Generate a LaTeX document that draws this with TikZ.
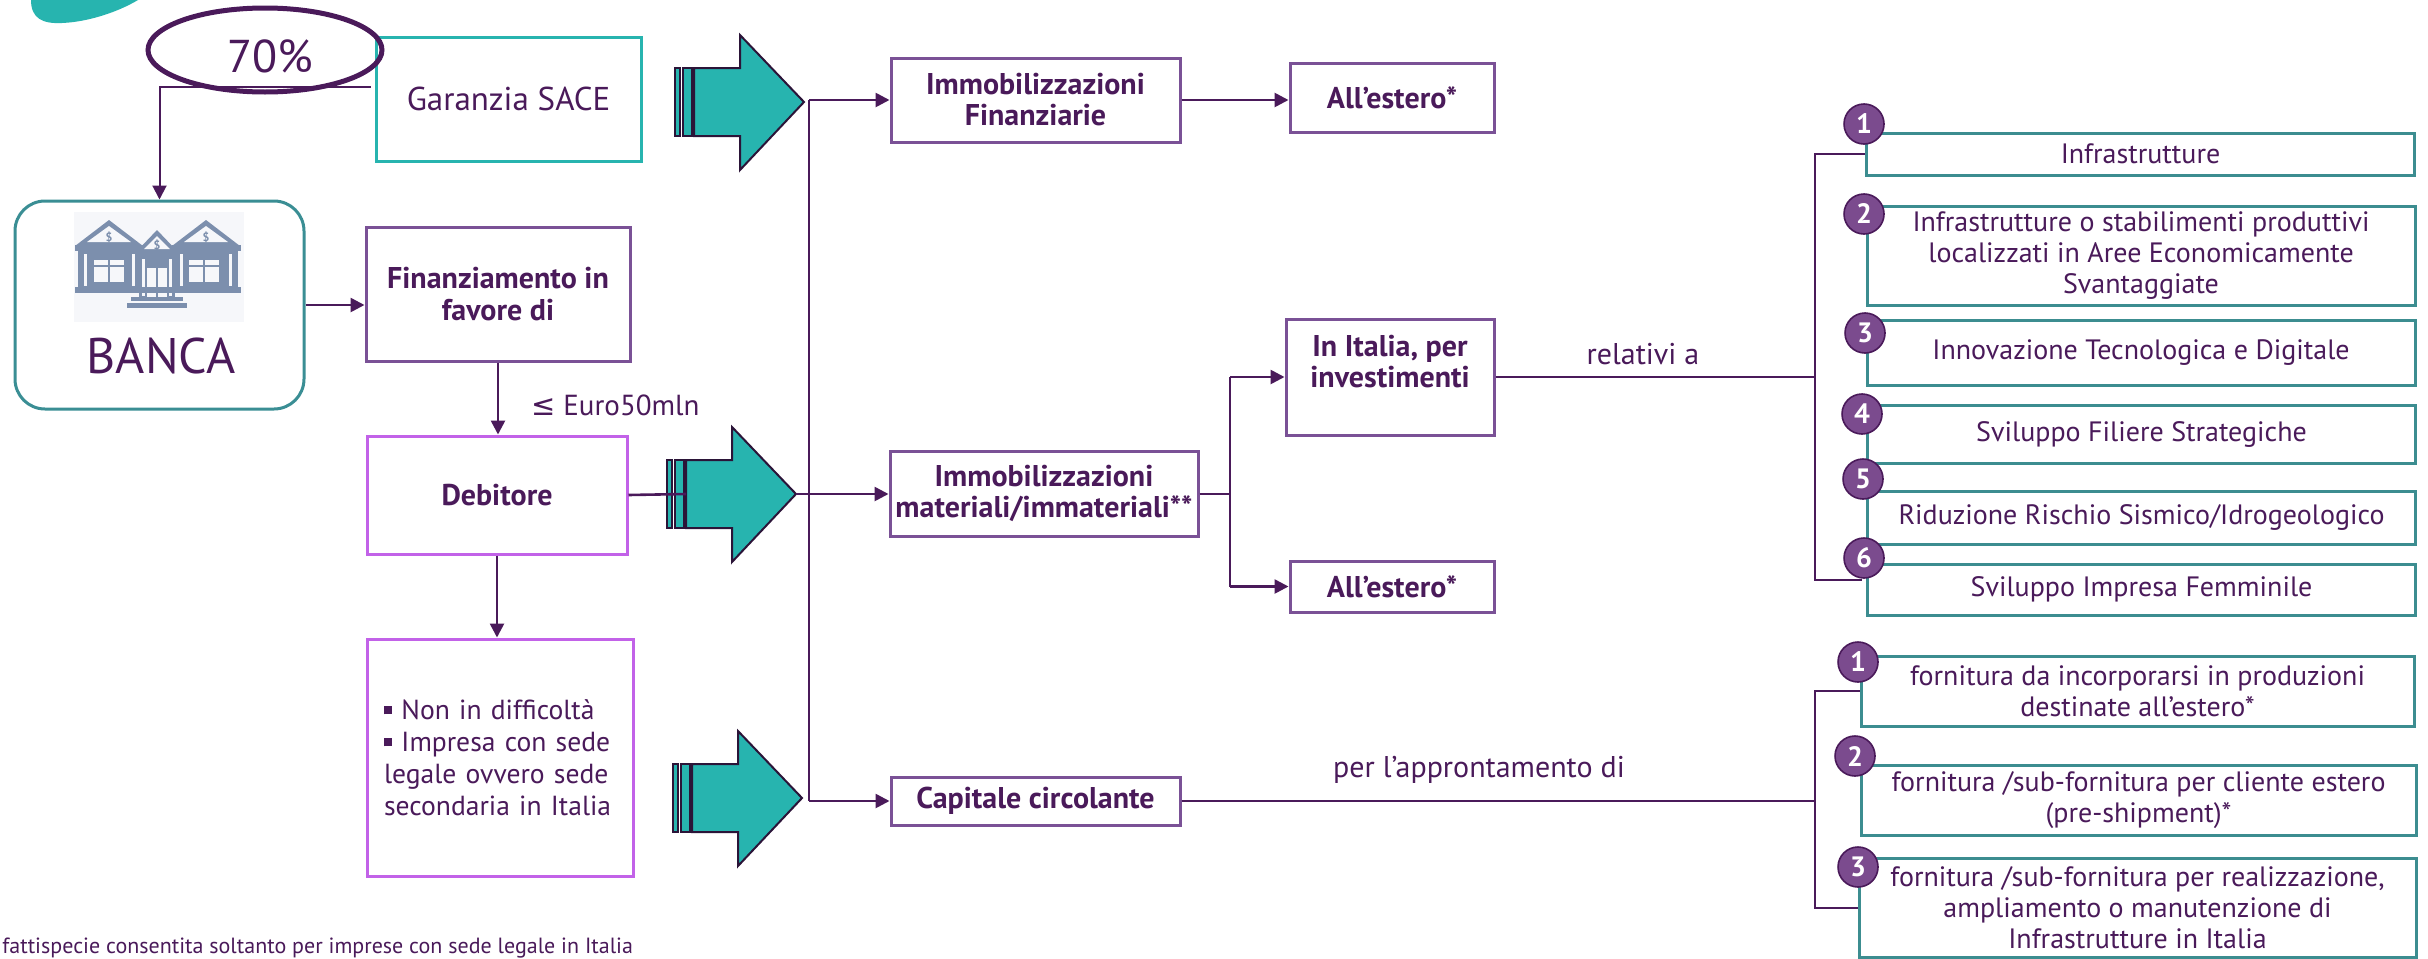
\documentclass[tikz,border=0pt]{standalone}
\usepackage{fontspec}
\setmainfont{PT Sans}
\newfontfamily\symfont{DejaVu Sans}
\usetikzlibrary{arrows.meta,calc,shapes.geometric}
\definecolor{tx}{HTML}{4A1A5A}
\definecolor{tealA}{HTML}{27B4AF}
\definecolor{tealB}{HTML}{3A8E94}
\definecolor{tealC}{HTML}{3C8D90}
\definecolor{boxp}{HTML}{7A5196}
\definecolor{vio}{HTML}{C262E8}
\definecolor{cpur}{HTML}{7B4B8E}
\definecolor{ardark}{HTML}{2B1438}
\definecolor{icon}{HTML}{7C8FAD}
\definecolor{iconbg}{HTML}{F6F7FA}
\newcommand\bul{\rule[0.18em]{0.3em}{0.3em}}
\tikzset{
  ln/.style={draw=tx, line width=1pt},
  arr/.style={draw=tx, line width=1.3pt, -{Triangle[length=7pt,width=7pt]}},
  pbox/.style={draw=boxp, line width=1.5pt, fill=white, inner sep=2pt, align=center, text=tx,
     font=\bfseries\fontsize{15}{15.5}\selectfont},
  vbox/.style={draw=vio, line width=1.5pt, fill=white, inner sep=2pt, align=center, text=tx},
  rbox/.style={draw=tealC, line width=1.5pt, fill=white, inner sep=2pt, align=center, text=tx,
     minimum width=274pt, font=\fontsize{14}{15.5}\selectfont},
  num/.style={circle, fill=cpur, draw=tx, line width=0.8pt, minimum size=20pt, inner sep=0pt,
     text=white, font=\bfseries\fontsize{14}{14}\selectfont},
  bigarrow/.style={fill=tealA, draw=ardark, line width=1pt},
  lbl/.style={text=tx, inner sep=0pt},
}
\begin{document}
\begin{tikzpicture}[x=0.5pt,y=-0.5pt]
\useasboundingbox (0,0) rectangle (2428,958);
\fill[white] (0,0) rectangle (2428,958);

% teal blob
\fill[tealA] (31,0) .. controls (31,18) and (42,24) .. (62,23) .. controls (88,22) and (118,12) .. (138,0) -- cycle;

% ---------- boxes ----------
\node[draw=tealA, line width=1.5pt, fill=white, minimum width=132.5pt, minimum height=62pt,
      text=tx, font=\fontsize{16.5}{18}\selectfont] (gar) at (508.5,99) {Garanzia SACE};
\node[ellipse, draw=tx, line width=2.5pt, minimum width=117pt, minimum height=42pt] (ell) at (265,50) {};
\node[lbl, anchor=base, font=\fontsize{23}{23}\selectfont] (pct) at (270,72) {70\%};

\node[draw=tealB, line width=1.5pt, rounded corners=15pt, fill=white,
      minimum width=144.5pt, minimum height=104pt] (banca) at (159.5,305) {};
\node[lbl, anchor=base, font=\fontsize{25}{25}\selectfont] (bancat) at (161,373) {BANCA};

\node[pbox, minimum width=132pt, minimum height=67pt, font=\bfseries\fontsize{15}{16}\selectfont]
      (fin) at (498,294) {Finanziamento in\\favore di};
\node[vbox, minimum width=130pt, minimum height=59pt, font=\bfseries\fontsize{15}{16}\selectfont]
      (deb) at (497,495) {Debitore};
\node[vbox, minimum width=133pt, minimum height=118.5pt, text width=116pt, align=left,
      font=\fontsize{13.8}{16}\selectfont] (cond) at (500,757.5)
      {\mbox{\bul{} Non in difficoltà}\\
       \makebox[116pt][s]{\bul{} Impresa con sede}\\
       \makebox[116pt][s]{legale ovvero sede}\\
       \mbox{secondaria in Italia}};
\node[lbl, anchor=west, font=\fontsize{14.5}{16}\selectfont] (eur) at (531,405) {{\symfont ≤} Euro50mln};

\node[pbox, minimum width=144.5pt, minimum height=42pt] (immfin) at (1035.5,100) {Immobilizzazioni\\Finanziarie};
\node[pbox, minimum width=102pt, minimum height=34.5pt] (est1) at (1392,97.5) {All'estero*};
\node[pbox, minimum width=154pt, minimum height=42.5pt] (immmat) at (1044,493.5) {Immobilizzazioni\\materiali/immateriali**};
\node[pbox, minimum width=104pt, minimum height=58pt] (ita) at (1390,377) {};
\node[lbl, align=center, font=\bfseries\fontsize{15}{15.5}\selectfont] (itat) at (1390,362) {In Italia, per\\investimenti};
\node[pbox, minimum width=102pt, minimum height=25.5pt] (est2) at (1392,586.5) {All'estero*};
\node[pbox, minimum width=144.5pt, minimum height=24pt] (cap) at (1035.5,801) {Capitale circolante};

\node[rbox, minimum height=21pt] (r1) at (2140.5,154) {Infrastrutture};
\node[rbox, minimum height=49.5pt] (r2) at (2141,255.5) {Infrastrutture o stabilimenti produttivi\\localizzati in Aree Economicamente\\Svantaggiate};
\node[rbox, minimum height=32.5pt] (r3) at (2141,352.5) {Innovazione Tecnologica e Digitale};
\node[rbox, minimum height=29pt] (r4) at (2141.5,434) {Sviluppo Filiere Strategiche};
\node[rbox, minimum height=26.5pt] (r5) at (2141.5,517.5) {Riduzione Rischio Sismico/Idrogeologico};
\node[rbox, minimum height=25.5pt] (r6) at (2141.5,589.5) {Sviluppo Impresa Femminile};

\node[rbox, minimum width=276.5pt, minimum height=35pt] (s1) at (2137.5,691) {fornitura da incorporarsi in produzioni\\destinate all'estero*};
\node[rbox, minimum width=277.5pt, minimum height=35pt] (s2) at (2138.5,800) {fornitura /sub-fornitura per cliente estero\\(pre-shipment)*};
\node[rbox, minimum width=278.5pt, minimum height=49.5pt] (s3) at (2137.5,908) {fornitura /sub-fornitura per realizzazione,\\ampliamento o manutenzione di\\Infrastrutture in Italia};

% ---------- bank icon ----------
\fill[iconbg] (74,212) rectangle (244,322);
\fill[icon] (75,246) -- (109,220) -- (143,246) -- cycle;
\fill[iconbg] (87,242) -- (109,226) -- (131,242) -- cycle;
\fill[icon] (172,246) -- (206,220) -- (240,246) -- cycle;
\fill[iconbg] (184,242) -- (206,226) -- (228,242) -- cycle;
\fill[icon] (75,245) rectangle (143,251);
\fill[icon] (172,245) rectangle (241,251);
\fill[icon] (78,251) rectangle (141,288);
\fill[icon] (174,251) rectangle (238,288);
\fill[iconbg] (84,254) rectangle (87,286);
\fill[iconbg] (132,254) rectangle (135,286);
\fill[iconbg] (180,254) rectangle (183,286);
\fill[iconbg] (229,254) rectangle (232,286);
\fill[iconbg] (94,260) rectangle (124,282);
\fill[iconbg] (189,260) rectangle (219,282);
\draw[icon, line width=1pt] (109,260) -- (109,282) (204,260) -- (204,282) (94,266) -- (124,266) (189,266) -- (219,266);
\fill[icon] (136,252) -- (157,230) -- (178,252) -- cycle;
\fill[iconbg] (144,249) -- (157,236) -- (170,249) -- cycle;
\fill[icon] (136,252) rectangle (178,257);
\fill[icon] (139,257) rectangle (175,300);
\fill[iconbg] (142,259) rectangle (145,296);
\fill[iconbg] (169,259) rectangle (172,296);
\fill[iconbg] (147,268) rectangle (167,298);
\draw[icon, line width=1pt] (157,268) -- (157,298);
\fill[icon] (75,287) rectangle (241,293);
\fill[icon] (131,297) rectangle (183,301);
\fill[icon] (127,303) rectangle (187,308);
\node[text=icon, font=\bfseries\fontsize{6}{6}\selectfont, inner sep=0pt] (d1) at (109,237) {\$};
\node[text=icon, font=\bfseries\fontsize{6}{6}\selectfont, inner sep=0pt] (d2) at (206,237) {\$};
\node[text=icon, font=\bfseries\fontsize{6}{6}\selectfont, inner sep=0pt] (d3) at (157,245) {\$};

% ---------- big arrows ----------
\foreach \dx/\dy/\n in {0/0/1, -8/392/2, -2/696/3}{
  \begin{scope}[shift={(\dx,\dy)}]
    \filldraw[bigarrow] (694,68) -- (740,68) -- (740,35) -- (804,102) -- (740,170) -- (740,136) -- (694,136) -- cycle;
    \filldraw[bigarrow] (675,68) rectangle (680,136);
    \filldraw[bigarrow] (683,68) rectangle (692,136);
    \coordinate (tip\n) at (804,102);
    \coordinate (tail\n) at (694,102);
  \end{scope}
}

% ---------- connectors ----------
\draw[arr, line width=1pt] ($(gar.west)+(-4,-12)$) -| (banca.north);
\draw[arr] (banca.east) -- (banca.east -| fin.west);
\draw[arr] (fin.south) -- (fin.south |- deb.north);
\draw[arr] (deb.south) -- (deb.south |- cond.north);
\draw[ln, line width=1.3pt] (deb.east) -- (tail2);

\coordinate (vtop) at (809,100);
\coordinate (vbot) at (809,801);
\draw[ln, line width=0.8pt] (vtop) -- (vbot);
\draw[arr] (vtop) -- (immfin.west);
\draw[arr] (tip2) -- (tip2 -| immmat.west);
\draw[arr] (vbot) -- (cap.west);
\draw[arr] (immfin.east) -- (immfin.east -| est1.west);

\coordinate (br) at (1230,494);
\draw[ln] (immmat.east |- br) -- (br);
\draw[ln] (br |- ita.west) -- (br |- est2.west);
\draw[arr] (br |- ita.west) -- (ita.west);
\draw[arr] (br |- est2.west) -- (est2.west);

\coordinate (rb) at (1815,377);
\coordinate (r6s) at (1862,580);
\draw[ln] (ita.east) -- (rb);
\draw[ln] (r1.west) -| (rb) |- (r6s);
\node[lbl, font=\fontsize{15}{16}\selectfont] (rel) at (1643,354) {relativi a};

\coordinate (sb) at (1815,801);
\draw[ln] (cap.east) -- (sb);
\draw[ln] (s1.west) -| (sb) |- (s3.west);
\node[lbl, font=\fontsize{15}{16}\selectfont] (appr) at (1479,770) {per l'approntamento di};

% ---------- numbered circles ----------
\node[num] (c1) at (1864,124) {1};
\node[num] (c2) at (1864,214) {2};
\node[num] (c3) at (1865,333) {3};
\node[num] (c4) at (1862,414) {4};
\node[num] (c5) at (1863,479) {5};
\node[num] (c6) at (1864,558) {6};
\node[num] (e1) at (1858,662) {1};
\node[num] (e2) at (1855,756) {2};
\node[num] (e3) at (1858,867) {3};

% footnote
\node[lbl, anchor=base west, font=\fontsize{11}{12}\selectfont] (foot) at (2,953) {fattispecie consentita soltanto per imprese con sede legale in Italia};
\end{tikzpicture}
\end{document}
